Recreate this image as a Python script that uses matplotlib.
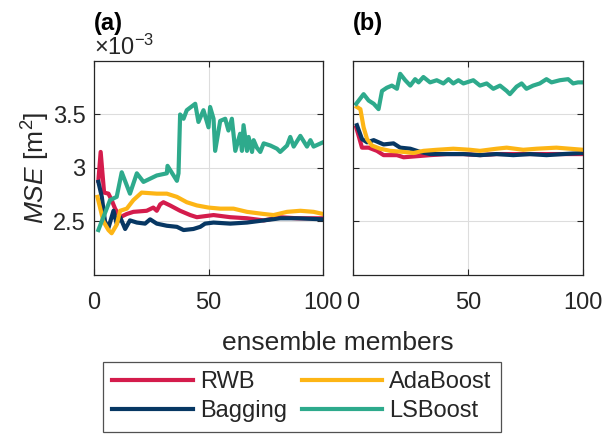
import matplotlib
matplotlib.use("Agg")
import matplotlib.pyplot as plt

###################################
# Data (MSE in units of 1e-3 m^2)

# Panel (a)
a_rwb_x = [1.9, 2.9, 4.4, 6.3, 7.7, 9.2, 11.4, 14.3, 17.2, 23.0, 25.9, 27.4, 28.9, 30.3, 33.2, 37.6, 42.0, 44.9, 52.2, 59.5, 66.8, 74.1, 81.3, 88.6, 100]
a_rwb_y = [2.88, 3.15, 2.77, 2.76, 2.70, 2.62, 2.54, 2.57, 2.59, 2.60, 2.63, 2.60, 2.66, 2.68, 2.65, 2.60, 2.56, 2.54, 2.56, 2.54, 2.53, 2.51, 2.54, 2.53, 2.53]

a_bag_x = [1.9, 3.4, 4.8, 6.3, 8.5, 9.9, 11.4, 13.6, 15.7, 18.7, 22.3, 24.5, 27.4, 31.8, 36.2, 39.1, 43.4, 46.4, 48.5, 52.2, 59.5, 66.8, 74.1, 81.3, 88.6, 100]
a_bag_y = [2.87, 2.73, 2.50, 2.44, 2.60, 2.48, 2.54, 2.43, 2.51, 2.49, 2.48, 2.52, 2.48, 2.46, 2.45, 2.42, 2.43, 2.45, 2.48, 2.49, 2.48, 2.49, 2.51, 2.53, 2.53, 2.52]

a_ada_x = [1.5, 4.1, 6.3, 7.7, 9.9, 11.4, 14.3, 17.2, 20.8, 27.4, 31.8, 36.2, 40.5, 44.9, 50.0, 55.1, 60.9, 66.8, 74.1, 78.4, 84.3, 90.1, 95.9, 100]
a_ada_y = [2.73, 2.50, 2.42, 2.39, 2.47, 2.60, 2.62, 2.70, 2.77, 2.76, 2.76, 2.73, 2.68, 2.65, 2.63, 2.62, 2.62, 2.59, 2.57, 2.56, 2.59, 2.60, 2.59, 2.57]

a_ls_x = [1.9, 7.0, 9.9, 12.1, 15.7, 18.7, 21.6, 27.4, 31.8, 32.1, 36.2, 36.9, 37.6, 39.1, 40.5, 44.2, 45.6, 47.8, 50.0, 50.7, 52.2, 52.9, 55.1, 57.3, 58.7, 60.2, 61.7, 63.8, 64.6, 65.3, 66.8, 67.5, 69.0, 69.7, 71.1, 72.6, 74.1, 77.0, 79.9, 81.3, 84.3, 85.7, 87.2, 90.1, 93.0, 94.5, 95.9, 100]
a_ls_y = [2.42, 2.70, 2.73, 2.96, 2.76, 2.95, 2.87, 2.93, 2.95, 3.02, 2.88, 2.95, 3.50, 3.46, 3.54, 3.60, 3.43, 3.54, 3.38, 3.57, 3.46, 3.16, 3.44, 3.46, 3.35, 3.46, 3.16, 3.32, 3.16, 3.40, 3.16, 3.29, 3.15, 3.26, 3.19, 3.15, 3.23, 3.21, 3.18, 3.15, 3.21, 3.29, 3.20, 3.30, 3.20, 3.26, 3.20, 3.24]

# Panel (b)
b_rwb_x = [1.4, 3.9, 6.8, 10.4, 13.3, 19.1, 22.0, 27.7, 33.5, 40.8, 48.0, 55.2, 62.4, 76.9, 100]
b_rwb_y = [3.38, 3.19, 3.19, 3.16, 3.12, 3.12, 3.10, 3.11, 3.12, 3.13, 3.13, 3.12, 3.13, 3.13, 3.13]

b_bag_x = [1.7, 3.9, 6.1, 9.0, 13.3, 17.6, 20.5, 24.9, 29.2, 33.5, 40.8, 48.0, 55.2, 62.4, 69.7, 76.9, 84.1, 91.3, 100]
b_bag_y = [3.40, 3.27, 3.24, 3.26, 3.22, 3.23, 3.19, 3.18, 3.15, 3.13, 3.13, 3.13, 3.12, 3.13, 3.12, 3.13, 3.12, 3.13, 3.14]

b_ada_x = [1.7, 3.2, 4.6, 6.1, 8.2, 11.8, 16.2, 22.0, 26.3, 30.6, 36.4, 43.6, 50.9, 55.2, 62.4, 66.8, 74.0, 79.8, 88.4, 94.2, 100]
b_ada_y = [3.57, 3.55, 3.38, 3.27, 3.21, 3.18, 3.16, 3.15, 3.14, 3.16, 3.17, 3.18, 3.17, 3.16, 3.18, 3.19, 3.17, 3.18, 3.19, 3.18, 3.17]

b_ls_x = [1.4, 4.6, 6.8, 9.0, 11.1, 12.6, 14.7, 16.9, 19.1, 20.5, 22.7, 24.9, 27.0, 28.5, 30.6, 33.5, 36.4, 39.3, 41.5, 43.6, 45.8, 48.0, 52.3, 55.2, 58.1, 61.0, 63.9, 66.8, 68.2, 71.1, 73.3, 75.4, 78.3, 81.2, 84.1, 86.3, 89.9, 93.5, 95.7, 97.8, 100]
b_ls_y = [3.60, 3.69, 3.63, 3.60, 3.55, 3.72, 3.75, 3.77, 3.74, 3.88, 3.82, 3.77, 3.83, 3.80, 3.85, 3.80, 3.82, 3.79, 3.83, 3.79, 3.82, 3.79, 3.82, 3.77, 3.79, 3.74, 3.77, 3.72, 3.69, 3.76, 3.79, 3.74, 3.77, 3.79, 3.83, 3.80, 3.82, 3.83, 3.79, 3.80, 3.80]

series_names = ["RWB", "Bagging", "AdaBoost", "LSBoost"]
series_colors = ["#D41C4C", "#073763", "#FDB515", "#2EAA8C"]

###################################
# Figure setup

plt.rcParams['font.family'] = ['Liberation Sans', 'DejaVu Sans']
plt.rcParams['mathtext.fontset'] = 'custom'
plt.rcParams['mathtext.rm'] = 'Liberation Sans'
plt.rcParams['mathtext.it'] = 'Liberation Sans:italic'
plt.rcParams['text.color'] = '#262626'
plt.rcParams['axes.labelcolor'] = '#262626'
plt.rcParams['xtick.color'] = '#262626'
plt.rcParams['ytick.color'] = '#262626'

fig = plt.figure(figsize=(6.05, 4.34), dpi=100)
ax_a = fig.add_axes([0.1554, 0.3664, 0.3785, 0.4931])
ax_b = fig.add_axes([0.5835, 0.3664, 0.3802, 0.4931])

panels = [
    (ax_a, [(a_rwb_x, a_rwb_y), (a_bag_x, a_bag_y), (a_ada_x, a_ada_y), (a_ls_x, a_ls_y)], "(a)"),
    (ax_b, [(b_rwb_x, b_rwb_y), (b_bag_x, b_bag_y), (b_ada_x, b_ada_y), (b_ls_x, b_ls_y)], "(b)"),
]

for ax, data, tag in panels:
    for (x, y), name, col in zip(data, series_names, series_colors):
        ax.plot(x, y, color=col, lw=3, label=name, solid_joinstyle='round')
    ax.set_xlim(0, 100)
    ax.set_ylim(2.0, 4.0)
    ax.set_xticks([0, 50, 100])
    ax.set_yticks([2.5, 3.0, 3.5])
    ax.grid(True, color='#DDDDDD', lw=0.8)
    ax.set_axisbelow(True)
    ax.tick_params(direction='in', length=4, width=0.8, labelsize=17, top=True, right=True)
    ax.tick_params(axis='x', pad=12)
    ax.tick_params(axis='y', pad=6)
    for sp in ax.spines.values():
        sp.set_color('#262626')
        sp.set_linewidth(0.9)
    ax.text(0.0, 1.12, tag, transform=ax.transAxes, fontsize=17, fontweight='bold',
            ha='left', va='bottom', color='black')

ax_a.set_yticklabels(['2.5', '3', '3.5'])
ax_b.set_yticklabels([])
ax_a.set_ylabel(r'$\mathit{MSE}$ [m$^2$]', fontsize=19, labelpad=1)
ax_a.text(0.0, 1.005, r'$\times$10$^{\mathregular{-3}}$', transform=ax_a.transAxes,
          fontsize=17, ha='left', va='bottom')

fig.text(0.558, 0.21, 'ensemble members', fontsize=19, ha='center', va='center')

handles, labels = ax_a.get_legend_handles_labels()
leg = fig.legend(handles, labels, ncol=2, loc='lower left', bbox_to_anchor=(0.170, 0.005),
                 fontsize=17, handlelength=3.4, columnspacing=0.65, handletextpad=0.3,
                 labelspacing=0.3, frameon=True, fancybox=False, borderpad=0.4,
                 borderaxespad=0.0)
leg.get_frame().set_edgecolor('#262626')
leg.get_frame().set_linewidth(0.9)

fig.savefig('out.png', dpi=100)
